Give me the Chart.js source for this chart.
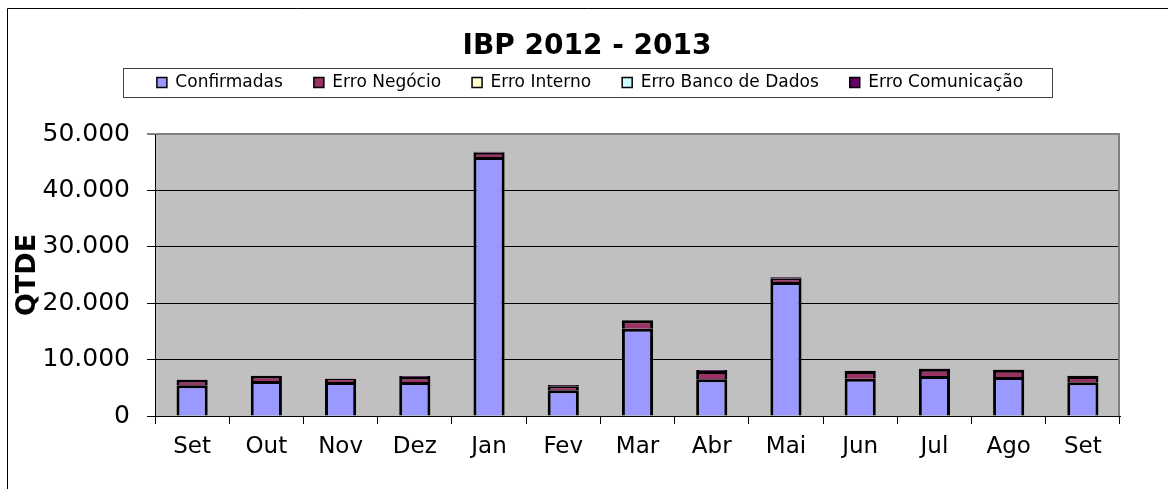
<!DOCTYPE html>
<html>
<head>
<meta charset="utf-8">
<script src="https://cdn.jsdelivr.net/npm/chart.js@4.4.1/dist/chart.umd.min.js"></script>
<style>
html,body{margin:0;padding:0;background:#fff;}
#wrap{width:1168px;height:489px;position:relative;}
</style>
</head>
<body>
<div id="wrap"><canvas id="c" width="1168" height="489"></canvas></div>
<script>
const categories = ['Set','Out','Nov','Dez','Jan','Fev','Mar','Abr','Mai','Jun','Jul','Ago','Set'];
const confirmadas     = [5440, 6200, 6030, 6030, 45920, 4560, 15480, 6510, 23760, 6610, 7090, 6910, 5980];
const erroNegocio     = [ 990,  890,  590,  890,   760,  710,  1490, 1470,   590, 1370, 1290, 1290, 1120];
const erroInterno     = [   0,    0,    0,    0,     0,    0,     0,    0,     0,    0,    0,    0,    0];
const erroBancoDados  = [   0,    0,    0,    0,     0,    0,     0,    0,     0,    0,    0,    0,    0];
const erroComunicacao = [  60,   40,   40,  180,   180,  230,    40,  180,   250,   40,   40,   40,   40];
const yTicks = [0, 10000, 20000, 30000, 40000, 50000];

const FONT = "'DejaVu Sans', 'Liberation Sans', Arial, sans-serif";
const fmt = v => String(v).replace(/\B(?=(\d{3})+(?!\d))/g, '.');

const framePlugin = {
  id: 'frame',
  afterLayout(chart) {
    const lg = chart.legend;
    lg.top -= 33; lg.bottom -= 33;
    lg.left += 6; lg.right += 6;
    const t = chart.titleBlock;
    if (t) { t.left += 3; t.right += 3; }
  },
  beforeDraw(chart) {
    const {ctx, chartArea: a} = chart;
    ctx.save();
    ctx.fillStyle = '#fff';
    ctx.fillRect(0, 0, chart.width, chart.height);
    ctx.fillStyle = '#C0C0C0';
    ctx.fillRect(a.left, a.top, a.right - a.left, a.bottom - a.top);
    // outer frame
    ctx.strokeStyle = '#000';
    ctx.lineWidth = 1;
    ctx.beginPath();
    ctx.moveTo(7.5, chart.height);
    ctx.lineTo(7.5, 8.5);
    ctx.lineTo(chart.width, 8.5);
    ctx.stroke();
    // legend box
    const lg = chart.legend;
    const hb = lg.legendHitBoxes;
    if (hb && hb.length) {
      const first = hb[0], last = hb[hb.length - 1];
      const cy = first.top + first.height / 2;
      const l = Math.round(first.left - 34) + 0.5;
      const r = Math.round(last.left + last.width + 29) + 0.5;
      ctx.strokeStyle = '#404040';
      ctx.strokeRect(l, Math.round(cy - 14.5) + 0.5, r - l, 29);
    }
    ctx.restore();
  },
  afterDraw(chart) {
    const {ctx, chartArea: a} = chart;
    ctx.save();
    ctx.strokeStyle = '#808080';
    ctx.lineWidth = 2;
    ctx.beginPath();
    ctx.moveTo(a.right - 1, a.top);
    ctx.lineTo(a.right - 1, a.bottom);
    ctx.stroke();
    ctx.restore();
  }
};

const common = {borderColor: '#000', borderWidth: 3, barPercentage: 0.42, categoryPercentage: 1, inflateAmount: 0};

new Chart(document.getElementById('c'), {
  type: 'bar',
  data: {
    labels: categories,
    datasets: [
      {label: 'Confirmadas', data: confirmadas, backgroundColor: '#9999FF', ...common},
      {label: 'Erro Negócio', data: erroNegocio, backgroundColor: '#993366', ...common},
      {label: 'Erro Interno', data: erroInterno, backgroundColor: '#FFFFCC', ...common},
      {label: 'Erro Banco de Dados', data: erroBancoDados, backgroundColor: '#CCFFFF', ...common},
      {label: 'Erro Comunicação', data: erroComunicacao, backgroundColor: '#660066', ...common}
    ]
  },
  options: {
    responsive: false,
    animation: false,
    devicePixelRatio: 1,
    layout: {padding: 0},
    plugins: {
      title: {
        display: true, text: 'IBP 2012 - 2013', color: '#000',
        font: {family: FONT, size: 28, weight: 'bold'},
        padding: {top: 30, bottom: 12.4}
      },
      legend: {
        display: true, position: 'top',
        labels: {
          boxWidth: 10, boxHeight: 10, padding: 31, color: '#000', font: {family: FONT, size: 17},
          generateLabels(chart) {
            const items = Chart.defaults.plugins.legend.labels.generateLabels(chart);
            items.forEach(it => { it.lineWidth = 1.5; });
            return items;
          }
        }
      },
      tooltip: {enabled: false}
    },
    scales: {
      x: {
        stacked: true,
        afterFit(s) { s.height = 73; },
        grid: {display: true, drawOnChartArea: false, drawTicks: true, tickLength: 8, color: '#000', offset: true},
        border: {color: '#000', width: 1},
        ticks: {color: '#000', font: {family: FONT, size: 23}, padding: 9, maxRotation: 0}
      },
      y: {
        stacked: true,
        min: 0, max: 50000,
        afterFit(s) { s.width = 155; },
        afterBuildTicks(s) { s.ticks = yTicks.map(v => ({value: v})); },
        grid: {
          color: c => (c.tick && c.tick.value === 50000) ? '#808080' : '#000',
          lineWidth: c => (c.tick && c.tick.value === 50000) ? 2 : 1,
          tickLength: 8, drawTicks: true
        },
        border: {color: '#000', width: 1},
        ticks: {color: '#000', font: {family: FONT, size: 25}, padding: 17, callback: v => fmt(v)},
        title: {display: true, text: 'QTDE', color: '#000', font: {family: FONT, size: 27, weight: 'bold'}, padding: {top: 12, bottom: 0}}
      },
      yRight: {
        type: 'linear', position: 'right', display: true,
        afterFit(s) { s.width = 48; },
        grid: {display: false}, border: {display: false}, ticks: {display: false}
      }
    }
  },
  plugins: [framePlugin]
});
</script>
</body>
</html>
